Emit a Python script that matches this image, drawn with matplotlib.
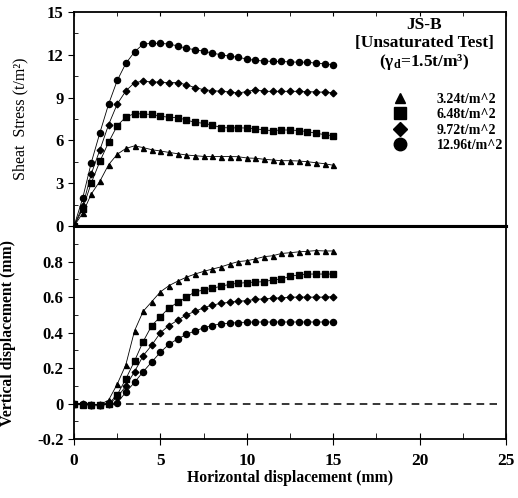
import matplotlib
matplotlib.use("Agg")
import matplotlib.pyplot as plt
from matplotlib.lines import Line2D
from matplotlib.ticker import MultipleLocator

plt.rcParams['font.family'] = ['Liberation Serif', 'DejaVu Serif']
plt.rcParams['mathtext.fontset'] = 'custom'
plt.rcParams['mathtext.rm'] = 'Liberation Serif:bold'
plt.rcParams['mathtext.bf'] = 'Liberation Serif:bold'
plt.rcParams['mathtext.it'] = 'Liberation Serif:italic:bold'

#---------------------- data ----------------------#
# horizontal displacement (mm)
disp = [0, 0.5, 1, 1.5, 2, 2.5, 3, 3.5, 4, 4.5, 5, 5.5, 6, 6.5, 7, 7.5,
        8, 8.5, 9, 9.5, 10, 10.5, 11, 11.5, 12, 12.5, 13, 13.5, 14, 14.5, 15]

labels = ["3.24t/m^2", "6.48t/m^2", "9.72t/m^2", "12.96t/m^2"]

# shear stress (t/m2)
stress_324 = [0, 0.9, 2.25, 3.15, 4.3, 5.03, 5.44, 5.62, 5.5, 5.35, 5.26,
              5.16, 5.07, 4.98, 4.93, 4.88, 4.88, 4.87, 4.87, 4.86, 4.77,
              4.75, 4.68, 4.63, 4.58, 4.58, 4.56, 4.51, 4.44, 4.37, 4.26]
stress_648 = [0, 1.2, 3.03, 4.54, 5.87, 7.03, 7.64, 7.88, 7.85, 7.82, 7.7,
              7.62, 7.6, 7.43, 7.27, 7.2, 7.08, 6.9, 6.88, 6.88, 6.87,
              6.82, 6.73, 6.69, 6.73, 6.73, 6.69, 6.62, 6.5, 6.41, 6.32]
stress_972 = [0, 1.4, 3.67, 5.35, 7.1, 8.55, 9.47, 10.05, 10.15, 10.1, 10.08,
              10.05, 10.05, 9.9, 9.7, 9.56, 9.49, 9.44, 9.4, 9.33, 9.42,
              9.56, 9.44, 9.44, 9.44, 9.44, 9.44, 9.42, 9.4, 9.38, 9.33]
stress_1296 = [0, 1.95, 4.45, 6.55, 8.54, 10.2, 11.4, 12.2, 12.75, 12.8, 12.8,
               12.75, 12.62, 12.45, 12.36, 12.25, 12.12, 12.0, 11.9, 11.83, 11.7,
               11.6, 11.57, 11.53, 11.53, 11.5, 11.48, 11.48, 11.41, 11.37, 11.3]

# vertical displacement (mm)
vert_324 = [0, 0, -0.005, -0.005, 0.02, 0.11, 0.22, 0.41, 0.52, 0.575, 0.63,
            0.665, 0.69, 0.712, 0.73, 0.745, 0.758, 0.77, 0.786, 0.8, 0.805,
            0.815, 0.828, 0.833, 0.846, 0.85, 0.855, 0.858, 0.862, 0.86, 0.86]
vert_648 = [0, -0.005, -0.005, -0.01, 0, 0.05, 0.14, 0.24, 0.35, 0.44, 0.49,
            0.54, 0.57, 0.6, 0.63, 0.64, 0.65, 0.661, 0.672, 0.678, 0.682,
            0.685, 0.687, 0.697, 0.702, 0.717, 0.725, 0.73, 0.73, 0.73, 0.73]
vert_972 = [0, 0, -0.005, -0.005, 0, 0.035, 0.1, 0.18, 0.27, 0.33, 0.4,
            0.44, 0.47, 0.5, 0.52, 0.54, 0.555, 0.565, 0.571, 0.577, 0.58,
            0.588, 0.59, 0.595, 0.595, 0.6, 0.6, 0.6, 0.6, 0.6, 0.603]
vert_1296 = [0, 0, -0.005, -0.005, 0, 0.005, 0.065, 0.12, 0.18, 0.235, 0.29,
             0.335, 0.365, 0.39, 0.41, 0.427, 0.44, 0.45, 0.453, 0.457, 0.459,
             0.46, 0.46, 0.46, 0.46, 0.46, 0.46, 0.46, 0.46, 0.46, 0.46]

# zero reference line in lower panel
zero_x = [0, 24.5]
zero_y = [0, 0]

stress = [stress_324, stress_648, stress_972, stress_1296]
vert = [vert_324, vert_648, vert_972, vert_1296]
markers = ['^', 's', 'D', 'o']
msizes = [3.6, 4.0, 3.4, 4.4]
leg_sizes = [6.5, 8, 7, 9]

#---------------------- figure ----------------------#
fig = plt.figure(figsize=(5.18, 4.98), dpi=100)
ax1 = fig.add_axes([0.1429, 0.546, 0.834, 0.430])
ax2 = fig.add_axes([0.1429, 0.118, 0.834, 0.428])

for s, v, m, ms in zip(stress, vert, markers, msizes):
    ax1.plot(disp, s, color='black', lw=0.6, marker=m, ms=ms, mec='black', mfc='black')
    ax2.plot(disp, v, color='black', lw=0.6, marker=m, ms=ms, mec='black', mfc='black')
ax2.plot(zero_x, zero_y, color='black', lw=1.1, ls=(0, (5, 3.5)))

for ax in (ax1, ax2):
    ax.set_xlim(0, 25)
    for sp in ax.spines.values():
        sp.set_linewidth(1.3)
    ax.xaxis.set_major_locator(MultipleLocator(5))
    ax.xaxis.set_minor_locator(MultipleLocator(2.5))

ax1.spines['bottom'].set_linewidth(2.2)
ax2.spines['top'].set_linewidth(2.2)

ax1.set_ylim(0, 15)
ax1.yaxis.set_major_locator(MultipleLocator(3))
ax1.yaxis.set_minor_locator(MultipleLocator(1.5))
ax1.tick_params(axis='x', which='both', bottom=False, top=True, labelbottom=False,
                direction='in', length=3)
ax1.tick_params(axis='y', which='major', direction='out', length=4, labelsize=12)
ax1.tick_params(axis='y', which='minor', direction='in', length=3)
for t in ax1.get_yticklabels():
    t.set_fontweight('bold')

ax2.set_ylim(-0.2, 1.0)
ax2.yaxis.set_major_locator(MultipleLocator(0.2))
ax2.yaxis.set_minor_locator(MultipleLocator(0.1))
ax2.set_yticks([-0.2, 0, 0.2, 0.4, 0.6, 0.8])
ax2.set_yticklabels(['-0.2', '0', '0.2', '0.4', '0.6', '0.8'])
ax2.tick_params(axis='y', which='major', direction='out', length=4, labelsize=12)
ax2.tick_params(axis='y', which='minor', direction='in', length=3)
ax2.tick_params(axis='x', which='major', direction='inout', length=8, labelsize=12.5, pad=6)
ax2.tick_params(axis='x', which='minor', direction='in', length=4)
ax2.set_xticks([0, 5, 10, 15, 20, 25])
ax2.set_xticklabels(['0', '5', '10', '15', '20', '25'])
for t in ax2.get_yticklabels() + ax2.get_xticklabels():
    t.set_fontweight('bold')

ax1.set_ylabel("Sheat  Stress (t/m²)", fontsize=11.5)
ax1.yaxis.set_label_coords(-0.105, 0.5)
ax2.set_ylabel("Vertical displacement (mm)", fontsize=11.3, fontweight='bold')
ax2.yaxis.set_label_coords(-0.135, 0.5)
ax2.set_xlabel("Horizontal displacement (mm)", fontsize=11.3, fontweight='bold')
ax2.xaxis.set_label_coords(0.5, -0.145)

#---------------------- legend ----------------------#
ax1.text(0.81, 0.94, "JS-B", transform=ax1.transAxes, ha='center', va='center',
         fontsize=12.5, fontweight='bold')
ax1.text(0.81, 0.855, "[Unsaturated Test]", transform=ax1.transAxes, ha='center',
         va='center', fontsize=12.5, fontweight='bold')
ax1.text(0.81, 0.765, "(γ$_\\mathrm{d}$=1.5t/m³)", transform=ax1.transAxes, ha='center',
         va='center', fontsize=12.5, fontweight='bold')

handles = [Line2D([], [], ls='none', marker=m, ms=s, color='black') for m, s in zip(markers, leg_sizes)]
ax1.legend(handles, labels, loc='upper left', bbox_to_anchor=(0.72, 0.655),
           frameon=False, handlelength=1.2, handletextpad=2.0, labelspacing=0.18,
           borderpad=0, prop={'family': 'Liberation Serif', 'weight': 'bold', 'size': 10})

plt.savefig("out.png", dpi=100)
